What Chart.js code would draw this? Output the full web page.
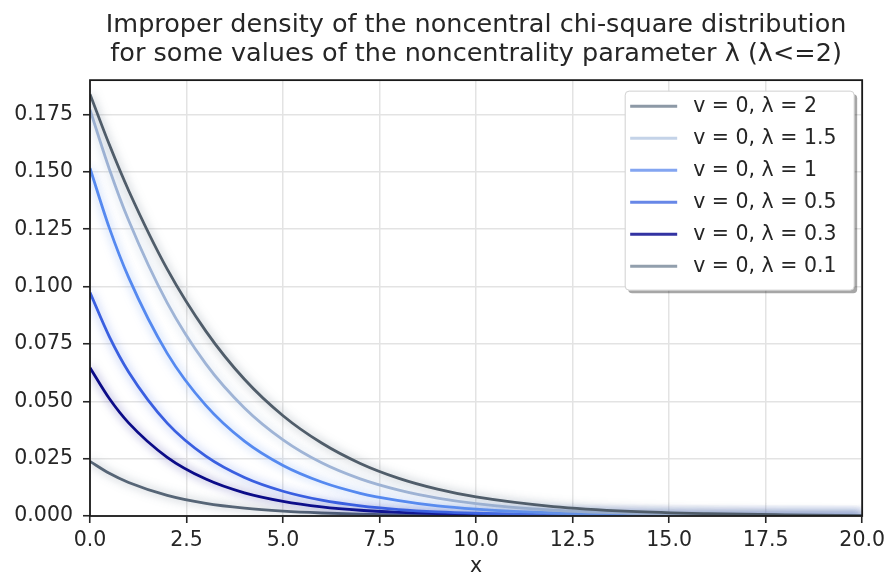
<!DOCTYPE html>
<html>
<head>
<meta charset="utf-8">
<script src="https://cdn.jsdelivr.net/npm/chart.js@4.4.0/dist/chart.umd.min.js"></script>
<style>
  html, body { margin: 0; padding: 0; background: #fff; }
  #wrap { width: 890px; height: 577px; }
</style>
</head>
<body>
<div id="wrap"><canvas id="densityChart"></canvas></div>
<script>
// x grid of the curves
const xValues = [0, 0.5, 1, 2, 3, 4, 5, 6, 7, 8, 9, 10, 12, 14, 16, 18, 20];

// continuous part of the density, v = 0
const densLambda2   = [0.1839, 0.1619, 0.1419, 0.1076, 0.0806, 0.0596, 0.0437, 0.0318, 0.0229, 0.0164, 0.0117, 0.0083, 0.0041, 0.0020, 0.0010, 0.0005, 0.0002];
const densLambda15  = [0.1771, 0.1513, 0.1289, 0.0929, 0.0663, 0.0471, 0.0332, 0.0232, 0.0162, 0.0113, 0.0078, 0.0054, 0.0025, 0.0012, 0.0005, 0.0002, 0.0001];
const densLambda1   = [0.1516, 0.1256, 0.1040, 0.0709, 0.0482, 0.0326, 0.0220, 0.0148, 0.0099, 0.0067, 0.0044, 0.0030, 0.0013, 0.0006, 0.0002, 0.0001, 0.0000];
const densLambda05  = [0.0974, 0.0782, 0.0628, 0.0405, 0.0261, 0.0168, 0.0108, 0.0069, 0.0044, 0.0028, 0.0018, 0.0012, 0.0005, 0.0002, 0.0001, 0.0000, 0.0000];
const densLambda03  = [0.0646, 0.0512, 0.0406, 0.0256, 0.0161, 0.0101, 0.0064, 0.0040, 0.0025, 0.0016, 0.0010, 0.0006, 0.0002, 0.0001, 0.0000, 0.0000, 0.0000];
const densLambda01  = [0.0238, 0.0186, 0.0146, 0.0090, 0.0055, 0.0034, 0.0021, 0.0013, 0.0008, 0.0005, 0.0003, 0.0002, 0.0001, 0.0000, 0.0000, 0.0000, 0.0000];

const seriesLabels = ['v = 0, λ = 2', 'v = 0, λ = 1.5', 'v = 0, λ = 1', 'v = 0, λ = 0.5', 'v = 0, λ = 0.3', 'v = 0, λ = 0.1'];
const seriesValues = [densLambda2, densLambda15, densLambda1, densLambda05, densLambda03, densLambda01];

const xTickValues = [0, 2.5, 5, 7.5, 10, 12.5, 15, 17.5, 20];
const yTickValues = [0, 0.025, 0.05, 0.075, 0.1, 0.125, 0.15, 0.175];

const titleLines = [
    'Improper density of the noncentral chi-square distribution',
    'for some values of the noncentrality parameter λ (λ<=2)'
];

// line colour in the plot, in the legend, and of the soft glow around it
const lineColors   = ['#505d6a', '#9fb4d6', '#5589f0', '#3a5fe0', '#0c0c88', '#566576'];
const legendColors = ['#8d99a6', '#c4d3e8', '#83a5f1', '#6787e7', '#3333a2', '#929fad'];
const glowColors   = ['rgba(112,128,144,0.7)', 'rgba(176,196,222,0.75)', 'rgba(100,149,237,0.65)',
                      'rgba(65,105,225,0.6)', 'rgba(0,0,139,0.55)', 'rgba(119,136,153,0.7)'];

const FONT = 'DejaVu Sans';
const TEXT = '#262626';

const datasets = seriesValues.map((vals, i) => ({
    label: seriesLabels[i],
    data: vals.map((y, j) => ({ x: xValues[j], y: y })),
    borderColor: lineColors[i],
    borderWidth: 2.8,
    pointRadius: 0,
    fill: false,
    cubicInterpolationMode: 'monotone'
}));

// glow behind each curve
const glowPlugin = {
    id: 'glow',
    beforeDatasetDraw(chart, args) {
        const ctx = chart.ctx;
        ctx.save();
        ctx.shadowColor = glowColors[args.index];
        ctx.shadowBlur = 10;
        ctx.shadowOffsetX = 0;
        ctx.shadowOffsetY = 0;
    },
    afterDatasetDraw(chart) {
        chart.ctx.restore();
    }
};

// axes frame and boxed legend in the upper right corner
const framePlugin = {
    id: 'frame',
    afterDatasetsDraw(chart) {
        const ctx = chart.ctx;
        const a = chart.chartArea;
        ctx.save();
        ctx.strokeStyle = '#1a1a1a';
        ctx.lineWidth = 1.8;
        ctx.strokeRect(a.left, a.top, a.right - a.left, a.bottom - a.top);

        const w = 229, h = 199;
        const bx = a.right - 8 - w, by = a.top + 11;

        ctx.fillStyle = 'rgba(0,0,0,0.35)';
        ctx.beginPath();
        ctx.roundRect(bx + 3, by + 3, w, h, 4);
        ctx.fill();

        ctx.fillStyle = '#ffffff';
        ctx.strokeStyle = '#d0d0d0';
        ctx.lineWidth = 1;
        ctx.beginPath();
        ctx.roundRect(bx, by, w, h, 4);
        ctx.fill();
        ctx.stroke();

        ctx.font = '20.5px "' + FONT + '"';
        ctx.textBaseline = 'middle';
        ctx.textAlign = 'left';
        seriesLabels.forEach((label, i) => {
            const y = by + 15 + i * 32;
            ctx.strokeStyle = legendColors[i];
            ctx.lineWidth = 3;
            ctx.beginPath();
            ctx.moveTo(bx + 5, y);
            ctx.lineTo(bx + 52, y);
            ctx.stroke();
            ctx.fillStyle = TEXT;
            ctx.fillText(label, bx + 68, y + 1);
        });
        ctx.restore();
    }
};

const ctx = document.getElementById('densityChart').getContext('2d');
new Chart(ctx, {
    type: 'line',
    data: { datasets: datasets },
    options: {
        responsive: true,
        maintainAspectRatio: false,
        animation: false,
        layout: { padding: { left: 0, right: 26, top: 0, bottom: 0 } },
        plugins: {
            legend: { display: false },
            tooltip: { enabled: false },
            title: {
                display: true,
                text: titleLines,
                fullSize: false,
                color: TEXT,
                font: { family: FONT, size: 25.5, weight: 'normal', lineHeight: 1.14 },
                padding: { top: 11, bottom: 11 }
            }
        },
        scales: {
            x: {
                type: 'linear',
                min: 0,
                max: 20,
                afterBuildTicks: scale => { scale.ticks = xTickValues.map(v => ({ value: v })); },
                afterFit: scale => { scale.height = 61; },
                ticks: {
                    color: TEXT,
                    padding: 5,
                    maxRotation: 0,
                    font: { family: FONT, size: 20.5 },
                    callback: v => Number(v).toFixed(1)
                },
                grid: { color: '#e3e3e3', lineWidth: 1.5, tickLength: 7, tickColor: TEXT, tickWidth: 1.6 },
                border: { display: false },
                title: {
                    display: true,
                    text: 'x',
                    color: TEXT,
                    font: { family: FONT, size: 20.5, lineHeight: 1 },
                    padding: { top: 0, bottom: 0 }
                }
            },
            y: {
                type: 'linear',
                min: 0,
                max: 0.19,
                afterBuildTicks: scale => { scale.ticks = yTickValues.map(v => ({ value: v })); },
                afterFit: scale => { scale.width = 90; },
                ticks: {
                    color: TEXT,
                    padding: 10,
                    font: { family: FONT, size: 20.5 },
                    callback: v => Number(v).toFixed(3)
                },
                grid: { color: '#e3e3e3', lineWidth: 1.5, tickLength: 7, tickColor: TEXT, tickWidth: 1.6 },
                border: { display: false }
            }
        }
    },
    plugins: [glowPlugin, framePlugin]
});
</script>
</body>
</html>
